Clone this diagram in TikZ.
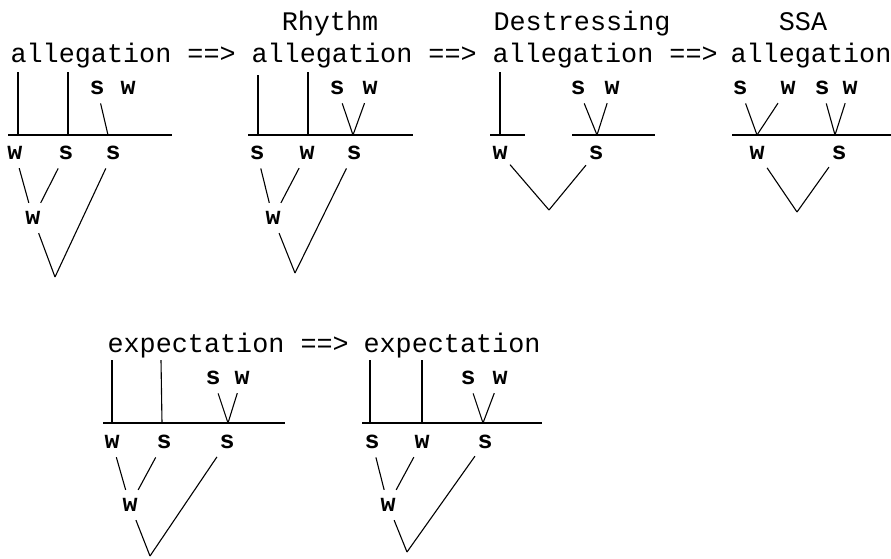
\documentclass[tikz,border=0pt]{standalone}
\usepackage{fontspec}
\newfontfamily\tw{Liberation Mono}

\begin{document}
\begin{tikzpicture}[x=1pt,y=-1pt,line width=1.1pt,
 word/.style={font={\tw\fontsize{26.8}{30}\selectfont},inner sep=0,anchor=base west},
 head/.style={font={\tw\fontsize{26.8}{30}\selectfont},inner sep=0,anchor=base},
 lab/.style={font={\tw\bfseries\fontsize{25}{30}\selectfont},inner xsep=2pt,inner ysep=8pt},
 grid line/.style={line width=1.6pt}]
\useasboundingbox (0,0) rectangle (891,558);
% allegation, input
\node[word] (wa) at (10,62){allegation ==>};
\coordinate (a1t) at (18,72);\coordinate (a1b) at (18,135);\coordinate (a2t) at (68,72);\coordinate (a2b) at (68,135);
\coordinate (al) at (8,135);\coordinate (ar) at (172,135);\coordinate (aj) at (108,135);\coordinate (aap) at (55,277);
\draw (a1t)--(a1b);\draw (a2t)--(a2b);\draw[grid line] (al)--(ar);
\node[lab] (as) at (97,88){s};\node[lab] (aw) at (128,88){w};
\node[lab] (aw1) at (15,153){w};\node[lab] (as1) at (66,153){s};\node[lab] (as2) at (113,153){s};\node[lab] (awm) at (33,218){w};
\draw (as)--(aj);\draw (aw1)--(awm);\draw (as1)--(awm);\draw (awm)--(aap);\draw (as2)--(aap);
% Rhythm
\node[head] (hb) at (330,30){Rhythm};
\node[word] (wb) at (251,62){allegation ==>};
\coordinate (b1t) at (258,75);\coordinate (b1b) at (258,135);\coordinate (b2t) at (308,72);\coordinate (b2b) at (308,135);
\coordinate (bl) at (248,135);\coordinate (br) at (413,135);\coordinate (bj) at (353,135);\coordinate (bap) at (295,273);
\draw (b1t)--(b1b);\draw (b2t)--(b2b);\draw[grid line] (bl)--(br);
\node[lab] (bs) at (337,88){s};\node[lab] (bw) at (370,88){w};
\node[lab] (bs1) at (257,153){s};\node[lab] (bw1) at (307,153){w};\node[lab] (bs2) at (354,153){s};\node[lab] (bwm) at (273,218){w};
\draw (bs)--(bj);\draw (bw)--(bj);\draw (bs1)--(bwm);\draw (bw1)--(bwm);\draw (bwm)--(bap);\draw (bs2)--(bap);
% Destressing
\node[head] (hc) at (582,30){Destressing};
\node[word] (wc) at (492,62){allegation ==>};
\coordinate (c1t) at (500,72);\coordinate (c1b) at (500,135);
\coordinate (cl) at (490,135);\coordinate (cr) at (525,135);\coordinate (cl2) at (572,135);\coordinate (cr2) at (655,135);
\coordinate (cj) at (597,135);\coordinate (cap) at (549,210);
\draw (c1t)--(c1b);\draw[grid line] (cl)--(cr);\draw[grid line] (cl2)--(cr2);
\node[lab] (cs) at (578,88){s};\node[lab] (cw) at (612,88){w};
\node[lab] (cw1) at (500,153){w};\node[lab] (cs1) at (596,153){s};
\draw (cs)--(cj);\draw (cw)--(cj);\draw (cw1)--(cap);\draw (cs1)--(cap);
% SSA
\node[head] (hd) at (803,30){SSA};
\node[word] (wd) at (730,62){allegation};
\coordinate (dl) at (732,135);\coordinate (dr) at (891,135);\coordinate (dj1) at (757,135);\coordinate (dj2) at (835,135);\coordinate (dap) at (797,212);
\draw[grid line] (dl)--(dr);
\node[lab] (ds1) at (740,88){s};\node[lab] (dw1) at (788,88){w};\node[lab] (ds2) at (822,88){s};\node[lab] (dw2) at (850,88){w};
\node[lab] (dw) at (757,153){w};\node[lab] (ds) at (839,153){s};
\draw (ds1)--(dj1);\draw (dw1)--(dj1);\draw (ds2)--(dj2);\draw (dw2)--(dj2);\draw (dw)--(dap);\draw (ds)--(dap);
% expectation, input
\node[word] (we) at (107,352){expectation ==>};
\coordinate (e1t) at (112,360);\coordinate (e1b) at (112,423);\coordinate (e2t) at (161,360);\coordinate (e2b) at (162,423);
\coordinate (el) at (103,423);\coordinate (er) at (285,423);\coordinate (ej) at (228,423);\coordinate (eap) at (150,556);
\draw (e1t)--(e1b);\draw (e2t)--(e2b);\draw[grid line] (el)--(er);
\node[lab] (es) at (213,378){s};\node[lab] (ew) at (242,378){w};
\node[lab] (ew1) at (112,442){w};\node[lab] (es1) at (164,442){s};\node[lab] (es2) at (227,442){s};\node[lab] (ewm) at (130,505){w};
\draw (es)--(ej);\draw (ew)--(ej);\draw (ew1)--(ewm);\draw (es1)--(ewm);\draw (ewm)--(eap);\draw (es2)--(eap);
% expectation, output
\node[word] (wf) at (363,352){expectation};
\coordinate (f1t) at (370,360);\coordinate (f1b) at (370,423);\coordinate (f2t) at (422,360);\coordinate (f2b) at (422,423);
\coordinate (fl) at (362,423);\coordinate (fr) at (542,423);\coordinate (fj) at (483,423);\coordinate (fap) at (407,552);
\draw (f1t)--(f1b);\draw (f2t)--(f2b);\draw[grid line] (fl)--(fr);
\node[lab] (fs) at (468,378){s};\node[lab] (fw) at (500,378){w};
\node[lab] (fs1) at (372,442){s};\node[lab] (fw1) at (422,442){w};\node[lab] (fs2) at (485,442){s};\node[lab] (fwm) at (388,505){w};
\draw (fs)--(fj);\draw (fw)--(fj);\draw (fs1)--(fwm);\draw (fw1)--(fwm);\draw (fwm)--(fap);\draw (fs2)--(fap);
\end{tikzpicture}
\end{document}
